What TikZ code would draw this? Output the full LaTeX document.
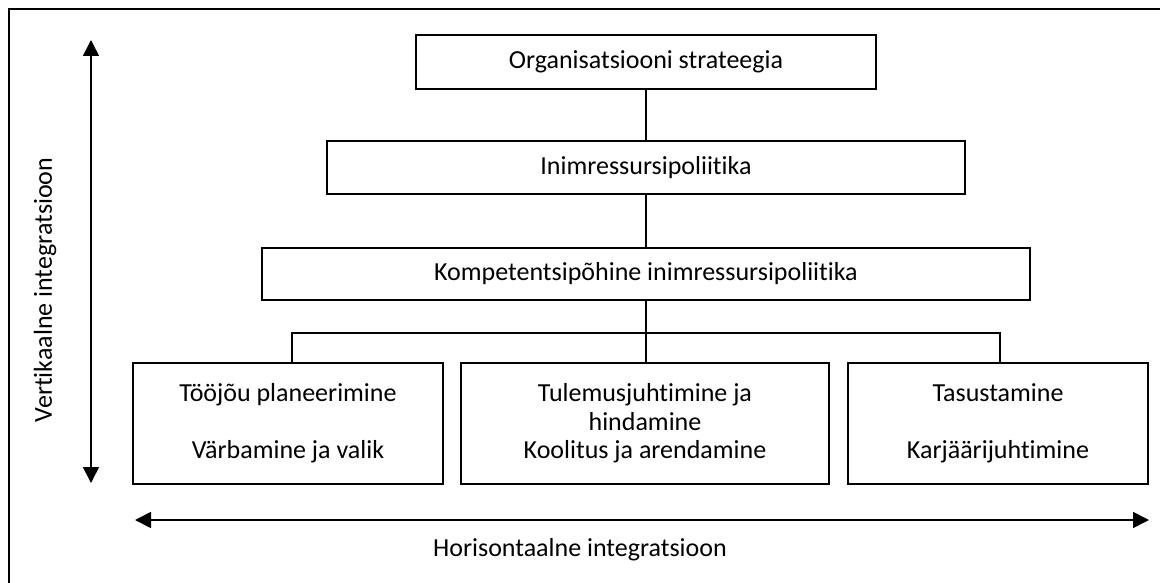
\documentclass[tikz,border=0pt]{standalone}
\usepackage{fontspec}
\setmainfont{Carlito}[Ligatures=NoCommon]
\usetikzlibrary{arrows.meta}
\begin{document}
\begin{tikzpicture}[x=1pt,y=-1pt,
  font=\fontsize{26}{28.5}\selectfont,
  box/.style={draw,line width=1.6pt,rectangle,inner sep=0pt,align=center},
  link/.style={line width=1.4pt},
  axis/.style={line width=1.6pt,{Triangle[length=16pt,width=16pt]}-{Triangle[length=16pt,width=16pt]}}]
\useasboundingbox (0,0) rectangle (1160,583);
% frame
\draw[line width=2pt] (9,583) -- (9,9) -- (1160,9);
% hierarchy of policies
\node[box,minimum width=460pt,minimum height=54pt] (org) at (646,62) {Organisatsiooni strateegia};
\node[box,minimum width=638pt,minimum height=53pt] (ir) at (646,167.5) {Inimressursipoliitika};
\node[box,minimum width=768pt,minimum height=52pt] (komp) at (646,274) {Kompetentsipõhine inimressursipoliitika};
% functional areas
\node[box,minimum width=310pt,minimum height=121pt] (f1) at (288,423.5) {Tööjõu planeerimine\\[\baselineskip]Värbamine ja valik};
\node[box,minimum width=368pt,minimum height=121pt] (f2) at (645,423.5) {Tulemusjuhtimine ja\\hindamine\\Koolitus ja arendamine};
\node[box,minimum width=300pt,minimum height=121pt] (f3) at (998,423.5) {Tasustamine\\[\baselineskip]Karjäärijuhtimine};
% connectors
\draw[link] (org) -- (ir);
\draw[link] (ir) -- (komp);
\coordinate (jl) at (292,333);
\coordinate (jm) at (646,333);
\coordinate (jr) at (1000,333);
\draw[link] (komp) -- (jm);
\draw[link] (jl |- f1.north) -- (jl) -- (jr) -- (jr |- f3.north);
\draw[link] (jm) -- (jm |- f2.north);
% integration axes
\coordinate (vt) at (91,40);
\coordinate (vb) at (91,483);
\coordinate (hl) at (135,520);
\coordinate (hr) at (1149,520);
\draw[axis] (vt) -- (vb);
\draw[axis] (hl) -- (hr);
\node[rotate=90] (vlab) at (45,290) {Vertikaalne integratsioon};
\node (hlab) at (580,550) {Horisontaalne integratsioon};
\end{tikzpicture}
\end{document}
